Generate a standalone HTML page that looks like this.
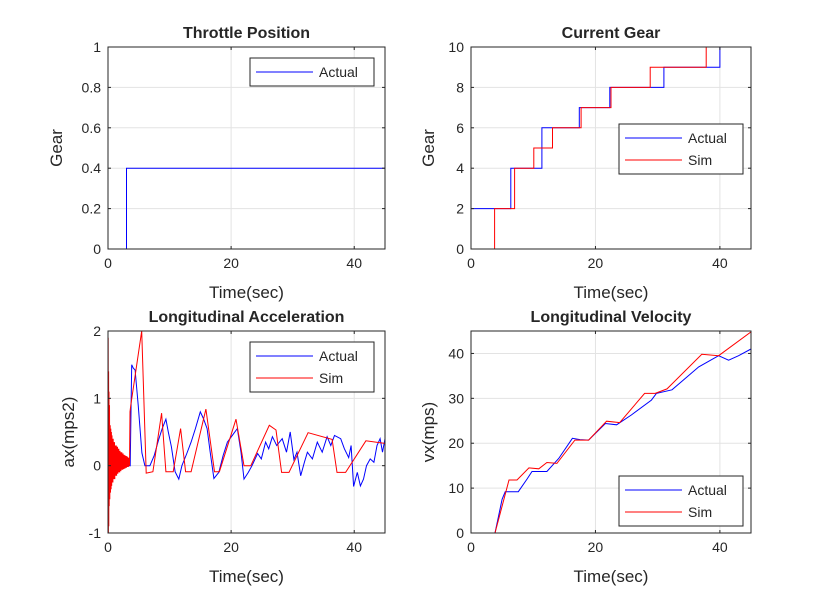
<!DOCTYPE html>
<html><head><meta charset="utf-8"><style>
body{margin:0;background:#fff}
svg text{font-family:"Liberation Sans",sans-serif;fill:#262626}
</style></head><body>
<svg id="fig" width="830" height="602" xmlns="http://www.w3.org/2000/svg"></svg>
<script>
// ---- data ----
const throttleT=[0,3,3,45];
const throttleV=[0,0,0.4,0.4];
const gearActT=[0,6.4,6.4,11.4,11.4,17.4,17.4,22.3,22.3,31.0,31.0,40.0,40.0,45];
const gearActV=[2,2,4,4,6,6,7,7,8,8,9,9,10,10];
const gearSimT=[0,3.8,3.8,7.0,7.0,10.1,10.1,13.1,13.1,17.7,17.7,22.5,22.5,28.8,28.8,37.8,37.8,45];
const gearSimV=[0,0,2,2,4,4,5,5,6,6,7,7,8,8,9,9,10,10];
const accActT=[0,3.6,3.85,4.1,4.4,4.9,5.5,6.0,6.8,7.5,8.2,8.8,9.4,9.8,10.3,10.9,11.5,12.0,12.8,13.5,14.2,15.0,15.5,16.1,16.6,17.2,18.0,18.7,19.4,20.2,21.0,21.6,22.1,22.8,23.4,24.3,24.9,25.6,26.1,26.7,27.4,28.3,29.0,29.6,30.2,30.7,31.3,31.9,32.4,33.2,34.0,34.8,35.6,36.2,36.8,37.8,38.4,39.1,39.5,39.9,40.5,41.0,41.5,42.0,42.6,43.2,43.7,44.2,44.6,45];
const accActV=[0,0,1.5,1.45,1.42,0.9,0.19,0,0,0.15,0.38,0.55,0.69,0.5,0.28,-0.09,-0.2,0,0.18,0.35,0.55,0.8,0.7,0.55,0.2,-0.19,-0.1,0.15,0.35,0.45,0.55,0.2,-0.2,-0.1,0,0.18,0.1,0.35,0.25,0.43,0.3,0.4,0.2,0.5,0.09,0.2,-0.15,0.05,0.2,0.1,0.35,0.2,0.43,0.3,0.45,0.4,0.25,0.12,0.3,-0.31,-0.1,-0.3,-0.2,0,0.1,0.05,0.3,0.4,0.2,0.4];
const accSimT=[0,0.03,0.06,0.1,0.13,0.16,0.2,0.25,0.3,0.35,0.4,0.45,0.5,0.55,0.6,0.65,0.7,0.75,0.8,0.85,0.9,0.95,1.0,1.05,1.1,1.15,1.2,1.25,1.3,1.35,1.4,1.45,1.5,1.55,1.6,1.65,1.7,1.75,1.8,1.85,1.9,1.95,2.0,2.05,2.1,2.15,2.2,2.25,2.3,2.35,2.4,2.45,2.5,2.55,2.6,2.65,2.7,2.75,2.8,2.85,2.9,2.95,3.0,3.05,3.1,3.15,3.2,3.25,3.3,3.35,3.4,3.45,3.5,3.57,3.7,5.47,6.2,7.3,8.7,9.4,10.6,11.8,12.6,13.5,15.9,17.3,18.1,20.8,22.1,23.2,26.2,27.3,28.2,29.4,32.5,36.4,37.2,38.6,41.9,45];
const accSimV=[0,1.9,-1,1.4,-0.9,1.1,-0.6,0.9,-0.5,0.6,-0.4,0.55,-0.35,0.5,-0.3,0.45,-0.25,0.4,-0.25,0.4,-0.2,0.35,-0.2,0.35,-0.2,0.3,-0.15,0.3,-0.15,0.3,-0.15,0.28,-0.12,0.28,-0.12,0.25,-0.1,0.25,-0.1,0.22,-0.1,0.22,-0.08,0.2,-0.08,0.2,-0.06,0.2,-0.06,0.18,-0.06,0.18,-0.05,0.16,-0.05,0.16,-0.04,0.15,-0.04,0.15,-0.03,0.14,-0.03,0.14,-0.02,0.13,-0.02,0.12,-0.02,0.12,0,0.1,0,0.8,0.9,2.0,-0.11,-0.09,0.78,-0.09,-0.09,0.55,-0.09,-0.09,0.84,-0.09,-0.09,0.69,0,0,0.6,0.53,-0.1,-0.1,0.49,0.39,-0.1,-0.1,0.37,0.33];
const velActT=[0,3.86,5.0,5.5,7.6,9.0,9.8,12.2,14.1,16.3,17.5,18.9,21.6,23.4,25.8,29.0,29.8,32.3,36.6,39.8,41.4,43.0,45];
const velActV=[0,0,7.5,9.2,9.2,12,13.7,13.7,16.6,21.1,20.8,20.7,24.4,24.1,26.3,29.6,31.1,31.9,37.0,39.5,38.5,39.5,41];
const velSimT=[0,3.86,6.1,7.4,9.3,10.9,12.2,13.8,16.7,18.9,21.8,23.9,27.9,29.6,31.5,37.1,39.8,45];
const velSimV=[0,0,11.8,11.8,14.5,14.3,15.7,15.5,20.7,20.7,24.9,24.6,31.1,31.1,32.1,39.8,39.5,44.8];

const NS="http://www.w3.org/2000/svg";
const fig=document.getElementById('fig');
function mk(tag,attrs,parent){const e=document.createElementNS(NS,tag);for(const k in attrs)e.setAttribute(k,attrs[k]);(parent||fig).appendChild(e);return e;}
function txt(s,attrs,parent){const e=mk('text',attrs,parent);e.textContent=s;return e;}

function panel(cfg){
  const g=mk('g',{});
  
  
  const {x0,x1,y0,y1,ymin,ymax}=cfg;
  const sx=t=>x0+(t-0)/45*(x1-x0);
  const sy=v=>y1-(v-ymin)/(ymax-ymin)*(y1-y0);
  mk('rect',{x:x0,y:y0,width:x1-x0,height:y1-y0,fill:'#fff'},g);
  [0,20,40].forEach(t=>{
    const l=mk('line',{x1:sx(t),x2:sx(t),y1:y0,y2:y1,stroke:'#e3e3e3','stroke-width':1},g);
    
  });
  cfg.yticks.forEach(v=>{
    const l=mk('line',{x1:x0,x2:x1,y1:sy(v),y2:sy(v),stroke:'#e3e3e3','stroke-width':1},g);
    
  });
  const clip='c'+cfg.name;
  const cp=mk('clipPath',{id:clip},g);mk('rect',{x:x0,y:y0,width:x1-x0,height:y1-y0},cp);
  cfg.series.forEach(s=>{
    const d=s.t.map((t,i)=>(i?'L':'M')+sx(t).toFixed(1)+','+sy(s.v[i]).toFixed(1)).join('');
    const p=mk('path',{d:d,fill:'none',stroke:s.color,'stroke-width':1,'clip-path':'url(#'+clip+')'},g);
    
  });
  mk('rect',{x:x0,y:y0,width:x1-x0,height:y1-y0,fill:'none',stroke:'#262626','stroke-width':1},g);
  [0,20,40].forEach(t=>{
    mk('line',{x1:sx(t),x2:sx(t),y1:y1,y2:y1-3,stroke:'#262626'},g);
    mk('line',{x1:sx(t),x2:sx(t),y1:y0,y2:y0+3,stroke:'#262626'},g);
    const e=txt(String(t),{x:sx(t),y:y1+19,'font-size':14,'text-anchor':'middle'},g);
    
  });
  cfg.yticks.forEach((v,i)=>{
    mk('line',{x1:x0,x2:x0+3,y1:sy(v),y2:sy(v),stroke:'#262626'},g);
    mk('line',{x1:x1,x2:x1-3,y1:sy(v),y2:sy(v),stroke:'#262626'},g);
    const e=txt(cfg.ylabels[i],{x:x0-7,y:sy(v)+5,'font-size':14,'text-anchor':'end'},g);
    
  });
  const tt=txt(cfg.title,{x:(x0+x1)/2,y:y0-9,'font-size':16,'font-weight':'bold','text-anchor':'middle',fill:'#000'},g);
  
  const xl=txt('Time(sec)',{x:(x0+x1)/2,y:y1+49,'font-size':17,'text-anchor':'middle'},g);
  
  const yx=cfg.ylx, yc=(y0+y1)/2;
  const yl=txt(cfg.ylabel,{x:yx,y:yc,'font-size':17,'text-anchor':'middle',transform:'rotate(-90 '+yx+' '+yc+')'},g);
  
  const L=cfg.legend;
  const lg=mk('g',{},g);
  
  const h=cfg.series.length*22+6;
  mk('rect',{x:L.x,y:L.y,width:124,height:h,fill:'#fff',stroke:'#262626'},lg);
  cfg.series.forEach((s,i)=>{
    const yy=L.y+14+i*22;
    mk('line',{x1:L.x+6,x2:L.x+63,y1:yy,y2:yy,stroke:s.color},lg);
    const e=txt(s.label,{x:L.x+69,y:yy+5,'font-size':14,fill:'#000'},lg);
    
  });
}
panel({name:'throttle-panel',title:'Throttle Position',x0:108,x1:385,y0:47,y1:249,ymin:0,ymax:1,
  yticks:[0,0.2,0.4,0.6,0.8,1],ylabels:['0','0.2','0.4','0.6','0.8','1'],ylabel:'Gear',ylx:62,
  legend:{x:250,y:58},series:[{name:'throttle-actual-line',label:'Actual',color:'#0000ff',t:throttleT,v:throttleV}]});
panel({name:'gear-panel',title:'Current Gear',x0:471,x1:751,y0:47,y1:249,ymin:0,ymax:10,
  yticks:[0,2,4,6,8,10],ylabels:['0','2','4','6','8','10'],ylabel:'Gear',ylx:434,
  legend:{x:619,y:124},series:[{name:'gear-actual-line',label:'Actual',color:'#0000ff',t:gearActT,v:gearActV},{name:'gear-sim-line',label:'Sim',color:'#ff0000',t:gearSimT,v:gearSimV}]});
panel({name:'accel-panel',title:'Longitudinal Acceleration',x0:108,x1:385,y0:331,y1:533,ymin:-1,ymax:2,
  yticks:[-1,0,1,2],ylabels:['-1','0','1','2'],ylabel:'ax(mps2)',ylx:74,
  legend:{x:250,y:342},series:[{name:'accel-actual-line',label:'Actual',color:'#0000ff',t:accActT,v:accActV},{name:'accel-sim-line',label:'Sim',color:'#ff0000',t:accSimT,v:accSimV}]});
panel({name:'velocity-panel',title:'Longitudinal Velocity',x0:471,x1:751,y0:331,y1:533,ymin:0,ymax:45,
  yticks:[0,10,20,30,40],ylabels:['0','10','20','30','40'],ylabel:'vx(mps)',ylx:434,
  legend:{x:619,y:476},series:[{name:'velocity-actual-line',label:'Actual',color:'#0000ff',t:velActT,v:velActV},{name:'velocity-sim-line',label:'Sim',color:'#ff0000',t:velSimT,v:velSimV}]});
</script>
</body></html>
